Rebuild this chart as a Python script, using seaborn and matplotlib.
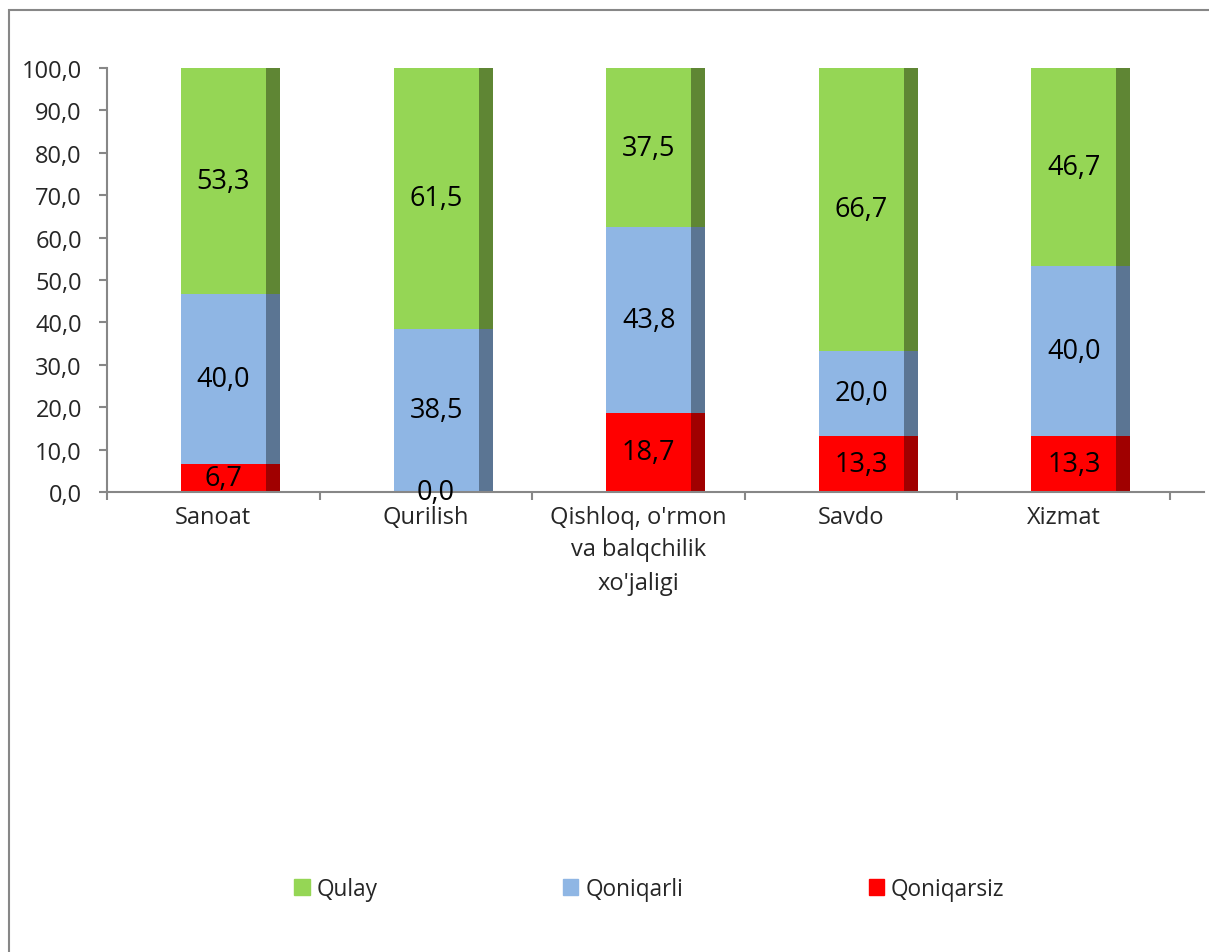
import numpy as np
import pandas as pd
import seaborn as sns
import matplotlib.pyplot as plt
from matplotlib.patches import Rectangle, Patch

# Chart data
categories = ["Sanoat", "Qurilish", "Qishloq, o'rmon\nva balqchilik\nxo'jaligi", "Savdo", "Xizmat"]
qoniqarsiz = [6.7, 0.0, 18.7, 13.3, 13.3]
qoniqarli = [40.0, 38.5, 43.8, 20.0, 40.0]
qulay = [53.3, 61.5, 37.5, 66.7, 46.7]
series_names = ["Qulay", "Qoniqarli", "Qoniqarsiz"]
y_ticks = [0, 10, 20, 30, 40, 50, 60, 70, 80, 90, 100]

GREEN, GREEN_D = "#95d655", "#5f8634"
BLUE, BLUE_D = "#8fb6e4", "#5b7593"
RED, RED_D = "#ff0000", "#a00000"
GRAY = "#878787"

sns.set_theme(style="white")
plt.rcParams['font.family'] = ['Open Sans', 'DejaVu Sans']

df = pd.DataFrame({"cat": categories, "red": qoniqarsiz, "blue": qoniqarli, "green": qulay})
df["blue_top"] = df["red"] + df["blue"]
df["total"] = df["blue_top"] + df["green"]

fig = plt.figure(figsize=(12.09, 9.53), dpi=100)
ax = fig.add_axes([107 / 1209, (953 - 493) / 953, (1204 - 107) / 1209, (493 - 69) / 953])

# front faces (cumulative heights drawn back to front)
for col, color in [("total", GREEN), ("blue_top", BLUE), ("red", RED)]:
    sns.barplot(data=df, x="cat", y=col, order=categories, color=color, saturation=1,
                width=0.4, errorbar=None, linewidth=0, ax=ax)

# darker side strip to fake the 3D look
xs = np.arange(len(categories)) + 0.2
ax.bar(xs, df["red"], width=0.066, align="edge", color=RED_D, linewidth=0)
ax.bar(xs, df["blue"], bottom=df["red"], width=0.066, align="edge", color=BLUE_D, linewidth=0)
ax.bar(xs, df["green"], bottom=df["blue_top"], width=0.066, align="edge", color=GREEN_D, linewidth=0)

# data labels
for i in range(len(categories)):
    bottom = 0
    for val in [qoniqarsiz[i], qoniqarli[i], qulay[i]]:
        ax.text(i, bottom + val / 2, f"{val:.1f}".replace(".", ","), ha="center", va="center",
                fontsize=19.5, color="black")
        bottom += val

ax.set_xlim(-0.548, 4.612)
ax.set_ylim(0, 100)
ax.set_xlabel("")
ax.set_ylabel("")

ax.set_xticks(np.arange(len(categories)) - 0.048)
ax.set_xticklabels(categories, fontsize=17, linespacing=1.5)
ax.set_xticks(np.arange(len(categories) + 1) - 0.548, minor=True)
ax.tick_params(axis="x", which="major", length=0, pad=9)
ax.tick_params(axis="x", which="minor", bottom=True, length=6, width=1.5, color=GRAY, direction="out")

ax.set_yticks(y_ticks)
ax.set_yticklabels([f"{v:.1f}".replace(".", ",") for v in y_ticks], fontsize=17)
ax.tick_params(axis="y", left=True, length=6, width=1.5, color=GRAY, pad=12)

sns.despine(ax=ax)
for side in ["left", "bottom"]:
    ax.spines[side].set_color(GRAY)
    ax.spines[side].set_linewidth(1.5)

# outer chart frame
fig.patches.append(Rectangle((9 / 1209, -0.1), 1.2, 1 - 11 / 953 + 0.1, transform=fig.transFigure,
                             fill=False, edgecolor=GRAY, linewidth=1.5))

handles = [Patch(color=c, label=n) for c, n in zip([GREEN, BLUE, RED], series_names)]
fig.legend(handles=handles, loc="center", bbox_to_anchor=(0.537, 0.066), ncol=3, frameon=False,
           fontsize=16.3, handlelength=0.68, handleheight=0.68, handletextpad=0.3, columnspacing=8.2)

fig.savefig("out.png", dpi=100)
